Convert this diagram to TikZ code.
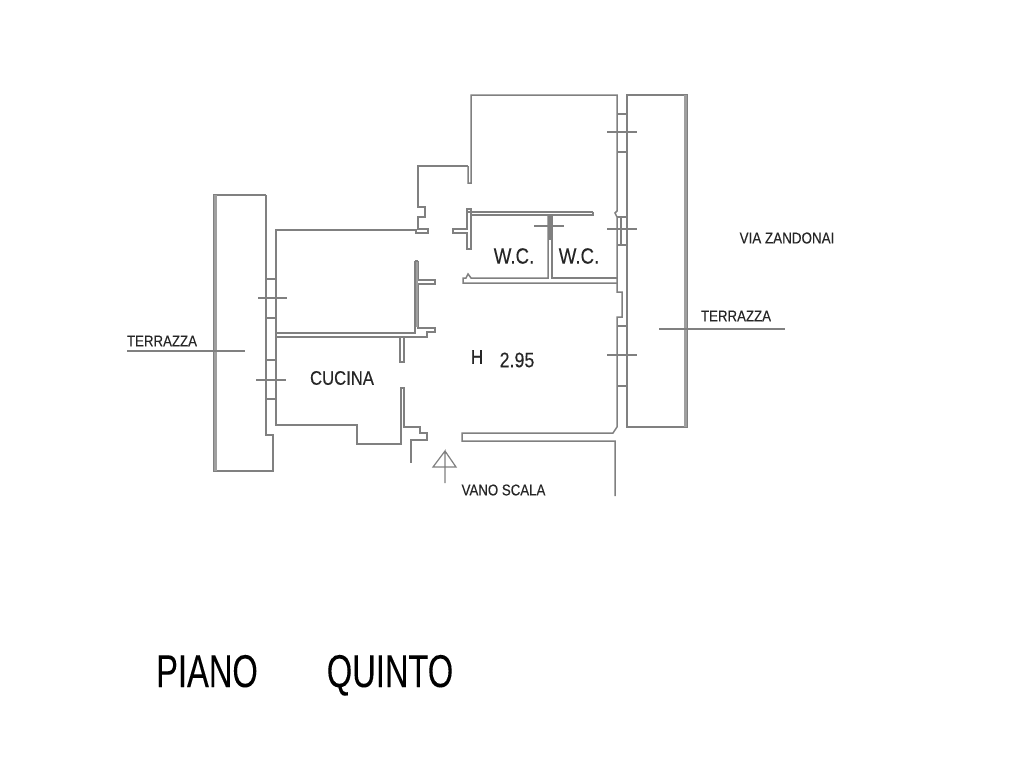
\documentclass[tikz,border=0pt]{standalone}
\usepackage{fontspec}
\setmainfont{Liberation Sans}
\newfontfamily\narrowfont[FakeStretch=0.85,FakeBold=0.15]{Liberation Sans}
\newfontfamily\titlefont[FakeStretch=0.71,FakeBold=0.1]{Liberation Sans}
\definecolor{wallgray}{gray}{0.5}
\tikzset{
  wall/.style={draw=wallgray,line width=1.5pt,line join=miter},
  thickwall/.style={draw=wallgray!75,line width=3pt},
  thinline/.style={draw=wallgray,line width=1.2pt},
  lbl/.style={inner sep=0pt,text=black!85,font=\narrowfont\fontsize{#1}{#1}\selectfont},
  titlelbl/.style={inner sep=0pt,anchor=base,text=black,font=\titlefont\fontsize{46}{46}\selectfont}
}
\begin{document}
\begin{tikzpicture}[x=1pt,y=-1pt]
        \useasboundingbox[fill=white] (0,0) rectangle (1024,768);
        % terraces
        \draw[wall] (627,95) rectangle (687,427);
        \draw[thickwall] (685.5,95) -- (685.5,427);
        \draw[wall] (266,195) -- (214,195) -- (214,471) -- (273,471) -- (273,435) -- (266,435) -- (266,195);
        \draw[thickwall] (215.5,195) -- (215.5,471);
        % outer walls
        \draw[wall] (468,166) -- (468,183) -- (471,183) -- (471,95) -- (617,95) -- (617,211) -- (615,213) -- (617,217) -- (617,292) -- (622,292) -- (622,317) -- (617,317) -- (617,427) -- (613,433) -- (462,433) -- (462,441) -- (615,441) -- (615,496);
        \draw[wall] (468,166) -- (418,166) -- (418,207) -- (425,207) -- (425,217) -- (418,217) -- (418,229) -- (428,229) -- (428,233) -- (416,233) -- (416,230) -- (276,230) -- (276,425) -- (357,425) -- (357,444) -- (401,444) -- (401,388) -- (404,388) -- (404,427) -- (420,427) -- (420,433) -- (427,433) -- (427,440) -- (411,440) -- (411,463);
        % inner walls
        \draw[wall] (415,261) -- (415,333) -- (276,333);
        \draw[wall] (418,261) -- (418,280) -- (435,280) -- (435,284) -- (418,284) -- (418,328) -- (435,328) -- (435,332) -- (427,332) -- (427,337) -- (276,337);
        \draw[wall] (415,261) -- (418,261);
        \draw[thickwall,line width=2pt] (416.5,262) -- (416.5,327);
        \draw[wall] (400,337) -- (400,362) -- (404,362) -- (404,337);
        % w.c. block
        \draw[wall] (593,212) -- (467,212) -- (467,209) -- (471,209) -- (471,249) -- (467,249) -- (467,233) -- (453,233) -- (453,229) -- (467,229) -- (467,212);
        \draw[wall] (471,215) -- (593,215) -- (593,212);
        \draw[wall] (548,215) -- (548,278) -- (471,278) -- (468,274) -- (466,278) -- (463,278) -- (463,283) -- (617,283);
        \draw[wall] (552,215) -- (552,278) -- (617,278);
        \draw[thickwall,line width=3.5pt,draw=wallgray] (550,215) -- (550,240);
        % windows
        \foreach \y in {114,152,217,245,326,386}
        \draw[thinline] (617,\y) -- (627,\y);
        \draw[thinline] (621,217) -- (621,245);
        \foreach \y in {132,229,355}
        \draw[thinline] (607,\y) -- (637,\y);
        \foreach \y in {279,318,360,399}
        \draw[thinline] (266,\y) -- (276,\y);
        \draw[thinline] (258,298) -- (287,298);
        \draw[thinline] (256,380) -- (286,380);
        \draw[thinline] (534,226) -- (564,226);
        % terrace leaders
        \draw[thinline] (127,351) -- (245,351);
        \draw[thinline] (659,329) -- (785,329);
        % entrance arrow
        \draw[thinline] (445,483) -- (445,451) -- (433,467) -- (456,467) -- (445,451);
        % labels
        \node[lbl=15.6] (terraceL) at (162,341) {TERRAZZA};
        \node[lbl=15.6] (terraceR) at (736,316) {TERRAZZA};
        \node[lbl=15.8] (street) at (787,238) {VIA ZANDONAI};
        \node[lbl=19.6] (kitchen) at (342,378) {CUCINA};
        \node[lbl=22] (wcA) at (514,256) {W.C.};
        \node[lbl=22] (wcB) at (579,256) {W.C.};
        \node[lbl=20] (hLabel) at (477,357) {H};
        \node[lbl=21] (hValue) at (517,360) {2.95};
        \node[lbl=15.6] (stairs) at (503.5,490) {VANO SCALA};
        \node[titlelbl] (floorA) at (207,687) {PIANO};
        \node[titlelbl] (floorB) at (390,687) {QUINTO};
\end{tikzpicture}
\end{document}
